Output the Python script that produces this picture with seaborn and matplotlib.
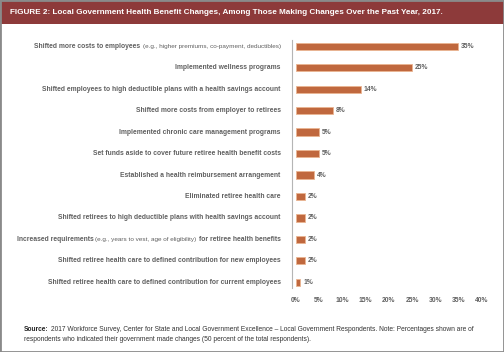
import re
import pandas as pd
import seaborn as sns
import matplotlib.pyplot as plt
from matplotlib.offsetbox import TextArea, HPacker, AnnotationBbox
from matplotlib.patches import Rectangle

changes = [
    'Shifted more costs to employees (e.g., higher premiums, co-payment, deductibles)',
    'Implemented wellness programs',
    'Shifted employees to high deductible plans with a health savings account',
    'Shifted more costs from employer to retirees',
    'Implemented chronic care management programs',
    'Set funds aside to cover future retiree health benefit costs',
    'Established a health reimbursement arrangement',
    'Eliminated retiree health care',
    'Shifted retirees to high deductible plans with health savings account',
    'Increased requirements (e.g., years to vest, age of eligibility) for retiree health benefits',
    'Shifted retiree health care to defined contribution for new employees',
    'Shifted retiree health care to defined contribution for current employees',
]
shares = [35, 25, 14, 8, 5, 5, 4, 2, 2, 2, 2, 1]
ticks = [0, 5, 10, 15, 20, 25, 30, 35, 40]

title = 'FIGURE 2: Local Government Health Benefit Changes, Among Those Making Changes Over the Past Year, 2017.'
source_1 = ('2017 Workforce Survey, Center for State and Local Government Excellence \u2013 Local Government '
            'Respondents. Note: Percentages shown are of')
source_2 = 'respondents who indicated their government made changes (50 percent of the total respondents).'

sns.set_theme(style='white')
plt.rcParams['font.family'] = ['Liberation Sans', 'DejaVu Sans']

grey = '#606060'
df = pd.DataFrame({'change': changes, 'share': shares})

fig = plt.figure(figsize=(5.04, 3.52), dpi=100)
ax = fig.add_axes([0.5867, 0.1676, 0.369, 0.7313])
sns.barplot(data=df, x='share', y='change', color='#c0683e', saturation=1,
            width=0.34, edgecolor='#eab592', linewidth=0.6, ax=ax)

ax.bar_label(ax.containers[0], fmt='%g%%', padding=2, fontsize=4.9,
             fontweight='bold', color=grey)

ax.set_xlim(0, 40)
ax.set_xticks(ticks)
ax.set_xticklabels([f'{t}%' for t in ticks], fontsize=4.9, fontweight='bold', color=grey)
ax.tick_params(axis='x', length=0, pad=3)
ax.set_yticks(range(len(changes)))
ax.set_yticklabels([])
ax.tick_params(axis='y', length=0)
ax.set_xlabel('')
ax.set_ylabel('')
for s in ['top', 'right', 'bottom']:
    ax.spines[s].set_visible(False)
ax.spines['left'].set_position(('outward', 2.7))
ax.spines['left'].set_color('#b5b5b5')
ax.spines['left'].set_linewidth(0.8)
ax.spines['left'].set_bounds(-0.3, 11.27)

# labels with the small "(e.g., ...)" parts
for i, lab in enumerate(changes):
    parts = re.split(r'(\(e\.g\.,[^)]*\))', lab)
    boxes = []
    for p in parts:
        p = p.strip()
        if not p:
            continue
        if p.startswith('(e.g.'):
            boxes.append(TextArea(p, textprops=dict(fontsize=4.6, color=grey)))
        else:
            boxes.append(TextArea(p, textprops=dict(fontsize=4.88, fontweight='bold', color=grey)))
    pack = HPacker(children=boxes, align='baseline', pad=0, sep=1.5)
    ab = AnnotationBbox(pack, (0, i), xycoords=('axes fraction', 'data'),
                        xybox=(-10.8, 0), boxcoords='offset points',
                        box_alignment=(1, 0.5), frameon=False, pad=0,
                        annotation_clip=False)
    ax.add_artist(ab)

# title bar
fig.patches.append(Rectangle((0, 1 - 23.5 / 352), 1, 23.5 / 352, transform=fig.transFigure,
                             facecolor='#8d3a3a', edgecolor='none', zorder=0))
fig.text(10 / 504, 1 - 12.5 / 352, title, fontsize=5.85, fontweight='bold',
         color='white', va='center', ha='left')

# source note
src = HPacker(children=[TextArea('Source:', textprops=dict(fontsize=4.8, fontweight='bold', color='#222222')),
                        TextArea(source_1, textprops=dict(fontsize=4.8, color='#333333'))],
              align='baseline', pad=0, sep=1.5)
fig.add_artist(AnnotationBbox(src, (24 / 504, 1 - 329.5 / 352), xycoords='figure fraction',
                              box_alignment=(0, 0.5), frameon=False, pad=0))
fig.text(24 / 504, 1 - 339.5 / 352, source_2, fontsize=4.8, color='#333333', va='center', ha='left')

# outer frame
fig.patches.append(Rectangle((0, 0), 1, 1, transform=fig.transFigure, fill=False,
                             edgecolor='#8a8a8a', linewidth=2, zorder=0))

fig.savefig('out.png', dpi=100)
